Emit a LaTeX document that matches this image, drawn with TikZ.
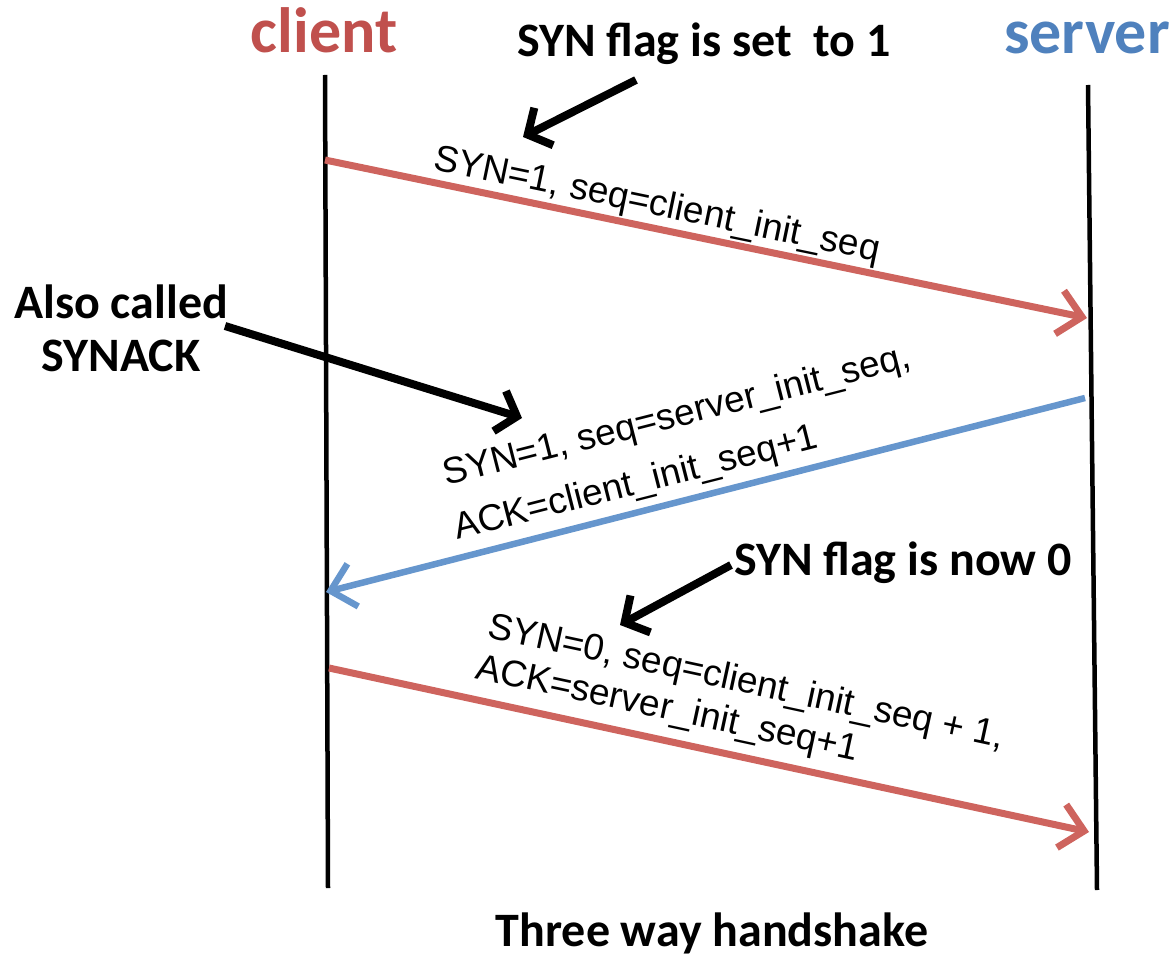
\documentclass[tikz,border=0pt]{standalone}
\usepackage{fontspec}
\setmainfont{Liberation Sans}
\newfontfamily\calibri{Carlito}
\usetikzlibrary{arrows.meta}
\definecolor{clientred}{RGB}{192,80,77}
\definecolor{serverblue}{RGB}{79,129,189}
\definecolor{msgred}{RGB}{206,100,94}
\definecolor{msgblue}{RGB}{102,150,205}

\begin{document}
\begin{tikzpicture}[x=1pt,y=-1pt,
  lifeline/.style={line width=4.5pt,black},
  msg/.style={line width=7pt,-{Straight Barb[length=23pt,width=44pt]}},
  callout/.style={line width=8pt,black,-{Straight Barb[length=18pt,width=42pt]}},
  heading/.style={font=\calibri\bfseries\fontsize{48}{53}\selectfont,inner sep=0pt},
  party/.style={font=\calibri\bfseries\fontsize{64}{70}\selectfont,inner sep=0pt},
  msgtext/.style={font=\fontsize{37}{42}\selectfont,inner sep=0pt,anchor=base west}
]
\useasboundingbox (0,0) rectangle (1172,957);

% participants
\node[party,text=clientred,anchor=base] (client) at (324,53) {client};
\node[party,text=serverblue,anchor=base west] (server) at (1004,54) {server};

% lifelines
\coordinate (ctop) at (325,75);
\coordinate (cbot) at (328,888);
\coordinate (stop) at (1088,85);
\coordinate (sbot) at (1097,890);
\draw[lifeline] (ctop) -- (cbot);
\draw[lifeline] (stop) -- (sbot);

% message end points
\coordinate (m1s) at (325,160);
\coordinate (m1e) at (1087,318);
\coordinate (m2s) at (1085,398);
\coordinate (m2e) at (326,592);
\coordinate (m3s) at (329,668);
\coordinate (m3e) at (1089,832);

\draw[msg,msgred] (m1s) -- (m1e);
\draw[msg,msgblue,line width=6.5pt] (m2s) -- (m2e);
\draw[msg,msgred] (m3s) -- (m3e);

% message contents
\node[msgtext,rotate=-11.7] (l1) at (432,169) {SYN=1, seq=client\_init\_seq};
\node[msgtext,rotate=14.3] (l2a) at (446,486) {SYN=1, seq=server\_init\_seq,};
\node[msgtext,rotate=14.3] (l2b) at (457,540) {ACK=client\_init\_seq+1};
\node[msgtext,rotate=-12.2] (l3a) at (486,637) {SYN=0, seq=client\_init\_seq + 1,};
\node[msgtext,rotate=-12.2] (l3b) at (474,678) {ACK=server\_init\_seq+1};

% annotations
\node[heading,anchor=base] (n1) at (704,57) {SYN flag is set\ \ to 1};
\node[heading,anchor=north,align=center] (n2) at (121,285) {Also called\\SYNACK};
\node[heading,anchor=base] (n3) at (903,575) {SYN flag is now 0};
\node[heading,anchor=base] (title) at (712,946) {Three way handshake};

\coordinate (a1s) at (636,80);
\coordinate (a1e) at (523,137);
\coordinate (a2s) at (225,326);
\coordinate (a2e) at (522,418);
\coordinate (a3s) at (731,565);
\coordinate (a3e) at (620,625);
\draw[callout] (a1s) -- (a1e);
\draw[callout] (a2s) -- (a2e);
\draw[callout] (a3s) -- (a3e);
\end{tikzpicture}
\end{document}
